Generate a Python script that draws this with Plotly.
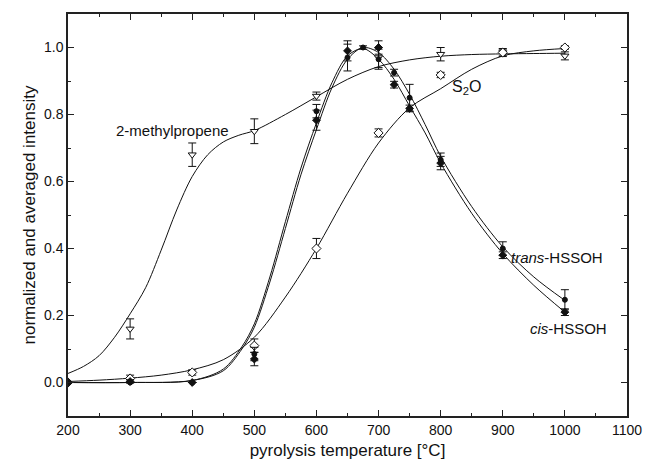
import plotly.graph_objects as go

# ---- measured points ----
mp_T = [300, 400, 500, 600, 700, 800, 900, 1000]
mp_v = [0.16, 0.68, 0.75, 0.855, 0.97, 0.98, 0.985, 0.975]
mp_err = [0.03, 0.035, 0.037, 0.012, 0.03, 0.02, 0.012, 0.012]

s2o_T = [200, 300, 400, 500, 600, 700, 800, 900, 1000]
s2o_v = [0.0, 0.012, 0.03, 0.11, 0.40, 0.745, 0.918, 0.985, 1.0]
s2o_err = [0, 0.01, 0.008, 0.02, 0.03, 0.012, 0.008, 0.01, 0.005]

trans_T = [200, 300, 400, 500, 600, 650, 675, 700, 725, 750, 800, 900, 1000]
trans_v = [0.0, 0.0, 0.0, 0.085, 0.81, 0.97, 1.0, 0.965, 0.925, 0.85, 0.665, 0.40, 0.247]
trans_err = [0, 0, 0, 0.02, 0.02, 0.04, 0.005, 0.03, 0.01, 0.04, 0.02, 0.02, 0.03]

cis_T = [200, 300, 400, 500, 600, 650, 700, 725, 750, 800, 900, 1000]
cis_v = [0.0, 0.003, 0.0, 0.07, 0.783, 0.99, 1.0, 0.889, 0.818, 0.655, 0.38, 0.21]
cis_err = [0, 0.005, 0, 0.02, 0.03, 0.03, 0.02, 0.01, 0.01, 0.02, 0.01, 0.01]

# ---- fitted curves ----
mp_fit_T = [200, 225, 250, 275, 300, 325, 350, 375, 400, 425, 450, 475, 500,
            550, 600, 650, 700, 750, 800, 850, 900, 950, 1000]
mp_fit_v = [0.027, 0.048, 0.08, 0.135, 0.205, 0.283, 0.395, 0.515, 0.615, 0.68,
            0.718, 0.738, 0.752, 0.80, 0.853, 0.905, 0.943, 0.963, 0.974, 0.979,
            0.981, 0.982, 0.983]

s2o_fit_T = [200, 250, 300, 350, 400, 450, 500, 550, 600, 650, 700, 750, 800,
             850, 900, 950, 1000]
s2o_fit_v = [0.003, 0.007, 0.013, 0.022, 0.038, 0.068, 0.135, 0.255, 0.40, 0.565,
             0.715, 0.82, 0.877, 0.935, 0.975, 0.99, 0.997]

trans_fit_T = [200, 300, 400, 450, 480, 500, 525, 550, 575, 600, 625, 650, 675,
               700, 725, 750, 775, 800, 850, 900, 950, 1000]
trans_fit_v = [0.0, 0.0, 0.006, 0.035, 0.1, 0.165, 0.3, 0.46, 0.62, 0.755, 0.88,
               0.965, 1.0, 0.985, 0.935, 0.86, 0.77, 0.675, 0.525, 0.405, 0.315, 0.245]

cis_fit_T = [200, 300, 400, 450, 480, 500, 525, 550, 575, 600, 625, 650, 675,
             700, 725, 750, 775, 800, 850, 900, 950, 1000]
cis_fit_v = [0.0, 0.0, 0.006, 0.04, 0.107, 0.175, 0.315, 0.48, 0.64, 0.775, 0.895,
             0.975, 0.997, 0.965, 0.905, 0.825, 0.745, 0.655, 0.505, 0.385, 0.29, 0.21]

x_ticks = [200, 300, 400, 500, 600, 700, 800, 900, 1000, 1100]
y_ticks = [0.0, 0.2, 0.4, 0.6, 0.8, 1.0]

INK = "#111111"
FONT = "Arial, Liberation Sans, sans-serif"

fig = go.Figure()

def curve(x, y):
    fig.add_trace(go.Scatter(x=x, y=y, mode="lines", line=dict(color=INK, width=1, shape="spline", smoothing=0.9),
                             hoverinfo="skip", showlegend=False))

def pts(x, y, err, symbol, size, color="white", lw=1):
    fig.add_trace(go.Scatter(x=x, y=y, mode="markers",
                             marker=dict(symbol=symbol, size=size, color=color, line=dict(color=INK, width=lw)),
                             error_y=dict(type="data", array=err, color=INK, thickness=1, width=4),
                             showlegend=False))

curve(mp_fit_T, mp_fit_v)
curve(s2o_fit_T, s2o_fit_v)
curve(trans_fit_T, trans_fit_v)
curve(cis_fit_T, cis_fit_v)

pts(mp_T, mp_v, mp_err, "triangle-down", 7)
pts(s2o_T, s2o_v, s2o_err, "diamond", 7)
pts(trans_T, trans_v, trans_err, "circle", 5, color=INK)
pts(cis_T, cis_v, cis_err, "diamond", 6, color=INK)

ann_font = dict(family=FONT, size=15, color=INK)
fig.add_annotation(x=368, y=0.751, text="2-methylpropene", showarrow=False, font=ann_font)
fig.add_annotation(x=841, y=0.882, text="S<sub>2</sub>O", showarrow=False, font=dict(family=FONT, size=16, color=INK))
fig.add_annotation(x=988, y=0.372, text="<i>trans</i>-HSSOH", showarrow=False, font=ann_font)
fig.add_annotation(x=1006, y=0.16, text="<i>cis</i>-HSSOH", showarrow=False, font=ann_font)

axis_common = dict(showline=True, linecolor="#222222", linewidth=1.5, mirror="ticks",
                   ticks="inside", ticklen=6, tickwidth=1, tickcolor="#222222",
                   showgrid=False, zeroline=False,
                   tickfont=dict(family=FONT, size=14, color=INK))

fig.update_xaxes(range=[200, 1100], tickvals=x_ticks,
                 minor=dict(dtick=50, ticks="inside", ticklen=3, tickcolor="#222222"),
                 title=dict(text="pyrolysis temperature [°C]", font=dict(family=FONT, size=17, color=INK), standoff=8),
                 **axis_common)
fig.update_yaxes(range=[-0.1, 1.1], tickvals=y_ticks, tickformat=".1f",
                 minor=dict(dtick=0.1, tick0=0, ticks="inside", ticklen=3, tickcolor="#222222"),
                 title=dict(text="normalized and averaged intensity", font=dict(family=FONT, size=17, color=INK), standoff=4),
                 **axis_common)

fig.update_layout(width=654, height=470, margin=dict(l=68, r=17, t=12, b=54),
                  plot_bgcolor="white", paper_bgcolor="white")

fig.write_html("out.html")
